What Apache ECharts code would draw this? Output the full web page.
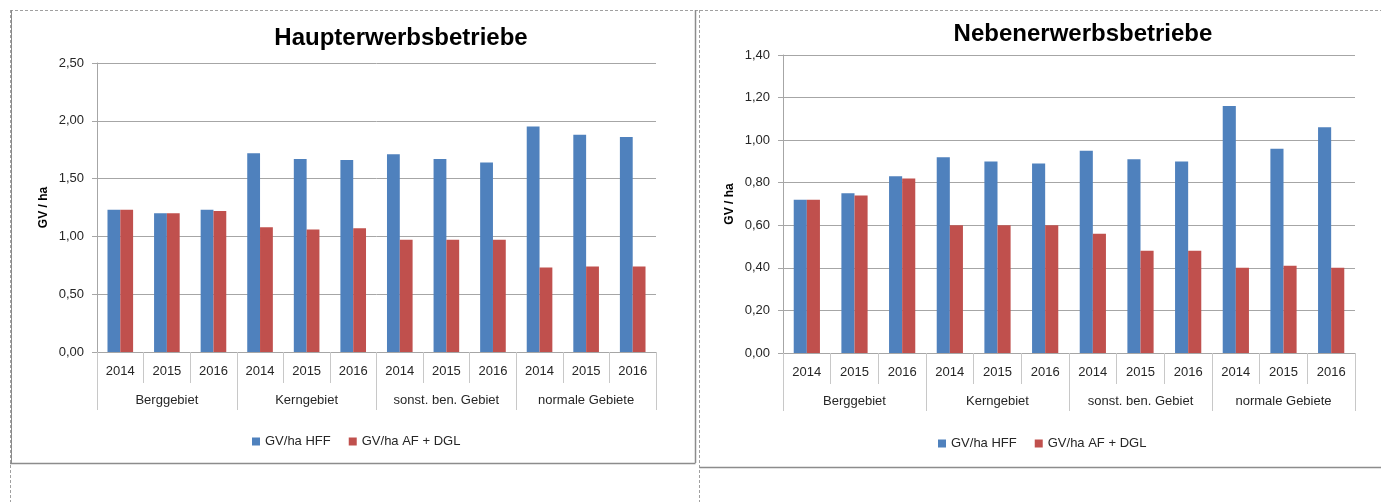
<!DOCTYPE html>
<html>
<head>
<meta charset="utf-8">
<script src="https://cdn.jsdelivr.net/npm/echarts@6/dist/echarts.min.js"></script>
<style>
html,body{margin:0;padding:0;background:#fff;}
#c{width:1381px;height:502px;}
</style>
</head>
<body>
<div id="c"></div>
<script>
// ---- data ----
const years = ['2014','2015','2016','2014','2015','2016','2014','2015','2016','2014','2015','2016'];
const regions = ['Berggebiet','Kerngebiet','sonst. ben. Gebiet','normale Gebiete'];
const seriesNames = ['GV/ha HFF','GV/ha AF + DGL'];
const titleLeft = 'Haupterwerbsbetriebe';
const titleRight = 'Nebenerwerbsbetriebe';
const axisName = 'GV / ha';
// Haupterwerbsbetriebe
const hauptHFF = [1.23,1.20,1.23, 1.72,1.67,1.66, 1.71,1.67,1.64, 1.95,1.88,1.86];
const hauptAF  = [1.23,1.20,1.22, 1.08,1.06,1.07, 0.97,0.97,0.97, 0.73,0.74,0.74];
// Nebenerwerbsbetriebe
const nebenHFF = [0.72,0.75,0.83, 0.92,0.90,0.89, 0.95,0.91,0.90, 1.16,0.96,1.06];
const nebenAF  = [0.72,0.74,0.82, 0.60,0.60,0.60, 0.56,0.48,0.48, 0.40,0.41,0.40];

const BLUE = '#4F81BD', RED = '#C0504D';
const FONT = 'Liberation Sans';
const GRID_C = '#A6A6A6';
const TXT = '#262626';

const fmt = v => v.toFixed(2).replace('.', ',');

function yAxis(gi, max, interval){
  return {
    type:'value', gridIndex:gi, min:0, max:max, interval:interval,
    name: axisName, nameLocation:'middle', nameGap:47, nameRotate:90,
    nameTextStyle:{fontFamily:FONT, fontSize:12, fontWeight:'bold', color:'#000'},
    axisLine:{show:true, lineStyle:{color:GRID_C, width:1}},
    axisTick:{show:true, length:5, lineStyle:{color:GRID_C}},
    axisLabel:{margin:13, fontFamily:FONT, fontSize:13, color:TXT, formatter:fmt},
    splitLine:{show:true, lineStyle:{color:GRID_C, width:1}}
  };
}
function xYears(gi){
  return {
    type:'category', gridIndex:gi, data:years, position:'bottom',
    axisLine:{show:true, lineStyle:{color:GRID_C}},
    axisTick:{show:true, interval:0, length:31, lineStyle:{color:'#C8C8C8'}},
    axisLabel:{interval:0, margin:13, fontFamily:FONT, fontSize:13, color:TXT},
    splitLine:{show:false}
  };
}
function xRegions(gi){
  return {
    type:'category', gridIndex:gi, data:regions, position:'bottom',
    axisLine:{show:false},
    axisTick:{show:true, interval:0, length:58, lineStyle:{color:'#C8C8C8'}},
    axisLabel:{interval:0, margin:42, fontFamily:FONT, fontSize:13, color:TXT},
    splitLine:{show:false}
  };
}
function bars(name, data, color, xi, yi){
  return {
    name:name, type:'bar', data:data, xAxisIndex:xi, yAxisIndex:yi,
    itemStyle:{color:color}, barGap:'0%', barCategoryGap:'45%', silent:true
  };
}

const solid = '#8C8C8C', dash = '#A0A0A0';
const line = (x1,y1,x2,y2,color,dashed,w) => ({
  type:'line', silent:true, z:100,
  shape:{x1:x1,y1:y1,x2:x2,y2:y2},
  style:{stroke:color, lineWidth:w||1, lineDash: dashed ? [3,2] : null}
});

const chart = echarts.init(document.getElementById('c'), null, {renderer:'canvas'});
chart.setOption({
  animation:false,
  backgroundColor:'#fff',
  title:[
    {text:titleLeft, left:401, top:26, textAlign:'center', padding:0,
     textStyle:{fontFamily:FONT, fontSize:24, fontWeight:'bold', color:'#000'}},
    {text:titleRight, left:1083, top:22, textAlign:'center', padding:0,
     textStyle:{fontFamily:FONT, fontSize:24, fontWeight:'bold', color:'#000'}}
  ],
  legend:[
    {data:seriesNames, left:252, top:435, itemWidth:8, itemHeight:8, itemGap:18, icon:'rect',
     selectedMode:false, textStyle:{fontFamily:FONT, fontSize:13, color:TXT}, padding:0},
    {data:seriesNames, left:938, top:437, itemWidth:8, itemHeight:8, itemGap:18, icon:'rect',
     selectedMode:false, textStyle:{fontFamily:FONT, fontSize:13, color:TXT}, padding:0}
  ],
  grid:[
    {left:97, top:63, width:559, height:289, containLabel:false},
    {left:783, top:55, width:572, height:298, containLabel:false}
  ],
  xAxis:[xYears(0), xRegions(0), xYears(1), xRegions(1)],
  yAxis:[yAxis(0, 2.5, 0.5), yAxis(1, 1.4, 0.2)],
  series:[
    bars(seriesNames[0], hauptHFF, BLUE, 0, 0),
    bars(seriesNames[1], hauptAF, RED, 0, 0),
    bars(seriesNames[0], nebenHFF, BLUE, 2, 1),
    bars(seriesNames[1], nebenAF, RED, 2, 1)
  ],
  graphic:[
    line(10,10.5,1381,10.5,dash,true,1),
    line(10.5,10,10.5,502,dash,true,1),
    line(11.5,10,11.5,463,solid,false,1),
    line(695.5,10,695.5,463,solid,false,1.5),
    line(10,463.5,695.5,463.5,solid,false,1.5),
    line(699.5,10,699.5,502,dash,true,1),
    line(699.5,467.5,1381,467.5,solid,false,1.5)
  ]
});
</script>
</body>
</html>
